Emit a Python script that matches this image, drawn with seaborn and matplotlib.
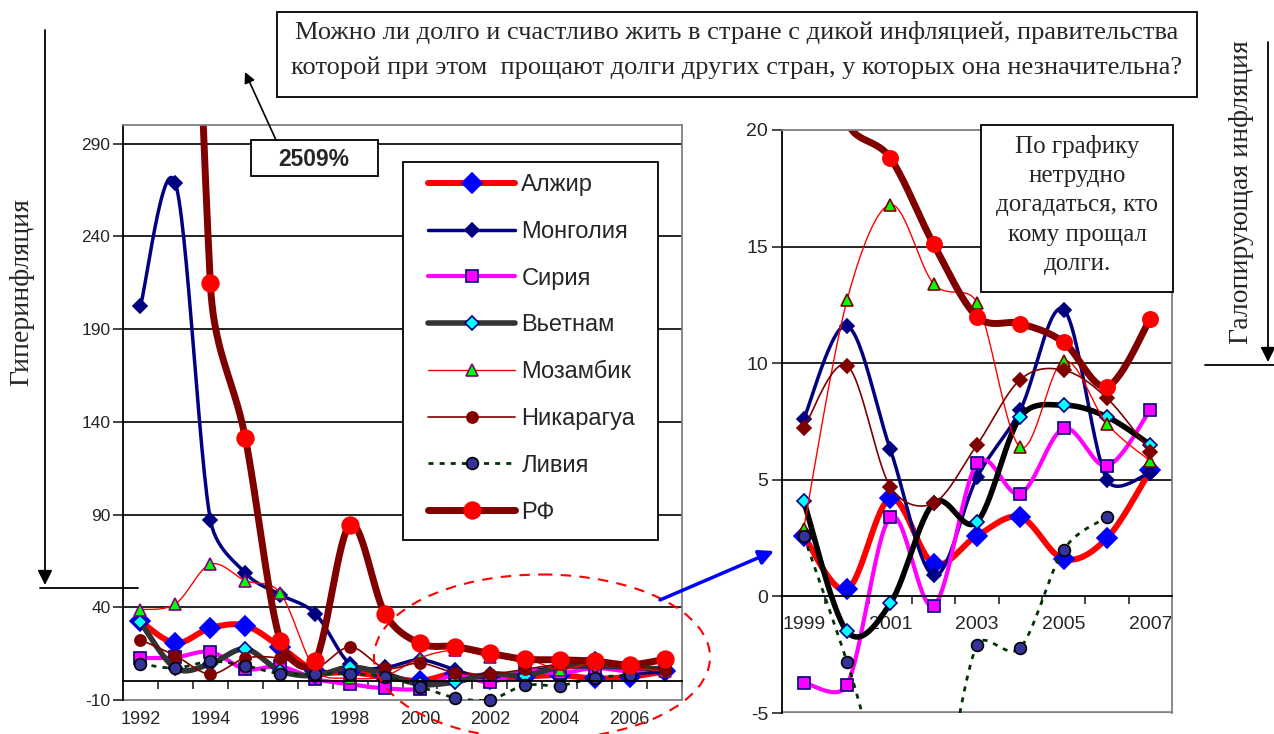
import numpy as np
import pandas as pd
import matplotlib
matplotlib.use("Agg")
import matplotlib.pyplot as plt
import seaborn as sns
from matplotlib.lines import Line2D
from matplotlib.patches import Rectangle, Ellipse

# inflation, %
years = list(range(1992, 2008))
algeria = [32.4, 20.7, 28.8, 30.1, 18.7, 5.7, 5.0, 2.6, 0.3, 4.2, 1.4, 2.6, 3.4, 1.6, 2.5, 5.4]
mongolia = [202.4, 268.6, 87.2, 58.5, 46.8, 36.6, 9.4, 7.6, 11.6, 6.3, 0.9, 5.1, 8.0, 12.3, 5.0, 5.3]
syria = [12.6, 13.0, 15.9, 6.7, 8.1, 1.4, -1.5, -3.7, -3.8, 3.4, -0.4, 5.7, 4.4, 7.2, 5.6, 8.0]
vietnam = [32.0, 7.2, 9.5, 17.5, 5.7, 3.2, 7.7, 4.1, -1.5, -0.3, 4.0, 3.2, 7.7, 8.2, 7.7, 6.5]
mozambique = [38.7, 41.8, 63.2, 54.4, 47.7, 6.4, 1.8, 2.9, 12.7, 16.8, 13.4, 12.6, 6.4, 10.1, 7.4, 5.8]
nicaragua = [22.5, 13.9, 4.0, 12.5, 12.5, 7.3, 18.6, 7.2, 9.9, 4.7, 4.0, 6.5, 9.3, 9.7, 8.5, 6.2]
libya = [9.5, 7.2, 10.8, 8.5, 4.1, 4.1, 4.1, 2.6, -2.8, -8.7, -9.8, -2.1, -2.2, 2.0, 3.4, np.nan]
russia = [2509, 874, 214.7, 131.4, 22.0, 10.9, 84.4, 36.5, 20.5, 18.8, 15.1, 12.0, 11.7, 10.9, 9.0, 11.9]

names = ["Алжир", "Монголия", "Сирия", "Вьетнам", "Мозамбик", "Никарагуа", "Ливия", "РФ"]
df = pd.DataFrame({"year": years, "Алжир": algeria, "Монголия": mongolia,
                   "Сирия": syria, "Вьетнам": vietnam, "Мозамбик": mozambique,
                   "Никарагуа": nicaragua, "Ливия": libya, "РФ": russia})

dots = (0, (1.8, 2.2))
styles = {
    "Алжир": dict(color="#FF0000", lw=4.3, ls="-", marker="D", ms=10, mfc="#0000FF", mec="#0000FF"),
    "Монголия": dict(color="#000080", lw=2.5, ls="-", marker="D", ms=7, mfc="#000080", mec="#000080"),
    "Сирия": dict(color="#FF00FF", lw=3, ls="-", marker="s", ms=8, mfc="#FF00FF", mec="#000080"),
    "Вьетнам": dict(color="#333333", lw=4, ls="-", marker="D", ms=7, mfc="#00FFFF", mec="#000080"),
    "Мозамбик": dict(color="#FF0000", lw=1, ls="-", marker="^", ms=8.5, mfc="#00FF00", mec="#800080"),
    "Никарагуа": dict(color="#800000", lw=1.2, ls="-", marker="o", ms=8, mfc="#800000", mec="#800000"),
    "Ливия": dict(color="#003300", lw=2, ls=dots, marker="o", ms=8.5, mfc="#333399", mec="#000000"),
    "РФ": dict(color="#800000", lw=5, ls="-", marker="o", ms=12, mfc="#FF0000", mec="#FF0000"),
}
# the small chart changes a few styles
right_styles = {
    "Вьетнам": dict(color="#000000"),
    "Мозамбик": dict(mec="#800000"),
    "Никарагуа": dict(marker="D", ms=7.5),
    "РФ": dict(ms=11),
}


def smooth(x, y, sx, sy, n=30):
    """Excel-like smoothed line: Bezier through the points, worked out
    in pixel units (sx, sy = pixels per data unit) with short handles"""
    x = np.asarray(x, float) * sx
    y = np.asarray(y, float) * sy
    ok = ~np.isnan(y)
    segs = []
    i = 0
    while i < len(y):
        if not ok[i]:
            i += 1
            continue
        j = i
        while j < len(y) and ok[j]:
            j += 1
        pts = np.column_stack([x[i:j], y[i:j]])
        i = j
        if len(pts) < 2:
            continue
        t = np.linspace(0, 1, n)[:, None]
        out = []
        for k in range(len(pts) - 1):
            p0 = pts[max(k - 1, 0)]
            p1 = pts[k]
            p2 = pts[k + 1]
            p3 = pts[min(k + 2, len(pts) - 1)]
            seg = np.hypot(*(p2 - p1))
            d1 = (p2 - p0) / 6
            d2 = (p3 - p1) / 6
            for d in (d1, d2):
                ln = np.hypot(*d)
                if ln > 0.45 * seg:
                    d *= 0.45 * seg / ln
            c1 = p1 + d1
            c2 = p2 - d2
            out.append((1 - t) ** 3 * p1 + 3 * (1 - t) ** 2 * t * c1
                       + 3 * (1 - t) * t ** 2 * c2 + t ** 3 * p2)
        out = np.vstack(out)
        segs.append((out[:, 0] / sx, out[:, 1] / sy))
    return segs


def draw(ax, data, ylo, yhi, tol, sx, sy, overrides):
    for name in names:
        st = dict(styles[name])
        st.update(overrides.get(name, {}))
        for xs, ys in smooth(data["year"], data[name], sx, sy):
            sns.lineplot(x=xs, y=ys, ax=ax, color=st["color"], linewidth=st["lw"],
                         linestyle=st["ls"], estimator=None, sort=False,
                         legend=False, solid_capstyle="round")
        vals = data[name].where((data[name] >= ylo - tol) & (data[name] <= yhi))
        ax.plot(data["year"], vals, ls="none", marker=st["marker"], ms=st["ms"],
                mfc=st["mfc"], mec=st["mec"], mew=1.2, clip_on=False)


sns.set_style("white")
plt.rcParams["font.family"] = ["Liberation Sans", "DejaVu Sans"]
plt.rcParams["axes.unicode_minus"] = False
serif = ["Liberation Serif", "DejaVu Serif"]

fig = plt.figure(figsize=(12.74, 7.34), dpi=100)
W, H = 1274, 734

# ---- left chart, 1992-2007
ax1 = fig.add_axes([123 / W, 34 / H, 559 / W, 575 / H])
for v in range(40, 291, 50):
    ax1.axhline(v, color="black", lw=1.2, zorder=0.5)
ax1.axhline(-10, color="#808080", lw=1.3, zorder=0.5, clip_on=False)
draw(ax1, df, -10, 300, 1.0, 559 / 16, 575 / 310, {})
ax1.set_xlim(1991.5, 2007.5)
ax1.set_ylim(-10, 300)
ax1.set_yticks(range(-10, 291, 50))
ax1.set_xticks(years[::2])
ax1.set_xticks(np.arange(1992.5, 2008, 1), minor=True)
ax1.tick_params(axis="y", direction="out", length=7, width=1.2, pad=2, labelsize=12.5, left=True)
ax1.tick_params(axis="x", which="major", length=0, pad=21, labelsize=13)
ax1.tick_params(axis="x", which="minor", direction="out", length=6, width=1.2, bottom=True)
ax1.spines["bottom"].set_position(("data", 0))
for s in ["left", "bottom"]:
    ax1.spines[s].set_color("black")
    ax1.spines[s].set_linewidth(1.3)
for s in ["top", "right"]:
    ax1.spines[s].set_color("#808080")
    ax1.spines[s].set_linewidth(1.3)
ax1.set_xlabel("")
ax1.set_ylabel("")

handles = []
for name in names:
    st = styles[name]
    handles.append(Line2D([], [], color=st["color"], lw=st["lw"], ls=st["ls"],
                          marker=st["marker"], ms=st["ms"], mfc=st["mfc"],
                          mec=st["mec"], mew=1.2))
# legend frame drawn by hand so the inner margins match
ax1.add_patch(Rectangle((403 / W, 1 - 540 / H), 255 / W, 378 / H, transform=fig.transFigure,
                        facecolor="white", edgecolor="black", lw=1.3, zorder=4.9))
leg = ax1.legend(handles, names, loc="upper left",
                 bbox_to_anchor=(428 / W, 1 - 174 / H), bbox_transform=fig.transFigure,
                 fontsize=17, handlelength=3.7, labelspacing=1.05, borderpad=0,
                 handletextpad=0.25, borderaxespad=0, frameon=False)

# ---- right chart, 1999-2007
df2 = df[df["year"] >= 1999].reset_index(drop=True)
ax2 = fig.add_axes([782 / W, 21 / H, 390 / W, 583 / H])
for v in [5, 10, 15]:
    ax2.axhline(v, color="black", lw=1.2, zorder=0.5)
ax2.axhline(-5, color="#808080", lw=2.6, zorder=0.5, clip_on=True)
draw(ax2, df2, -5, 20, 0.0, 390 / 9, 583 / 25, right_styles)
ax2.set_xlim(1998.5, 2007.5)
ax2.set_ylim(-5, 20)
ax2.set_yticks(range(-5, 21, 5))
ax2.set_xticks(years[7::2])
ax2.set_xticks(np.arange(1999.5, 2007, 1), minor=True)
ax2.set_axisbelow(True)
ax2.tick_params(axis="y", direction="out", length=7, width=1.2, pad=3, labelsize=14, left=True)
ax2.tick_params(axis="x", which="major", length=0, pad=14, labelsize=14)
ax2.tick_params(axis="x", which="minor", direction="out", length=6, width=1.2, bottom=True)
ax2.spines["bottom"].set_position(("data", 0))
for s in ["left", "bottom"]:
    ax2.spines[s].set_color("black")
    ax2.spines[s].set_linewidth(1.3)
for s in ["top", "right"]:
    ax2.spines[s].set_color("#808080")
    ax2.spines[s].set_linewidth(1.3)
ax2.set_xlabel("")
ax2.set_ylabel("")

# ---- annotations on top, in pixel coordinates
ov = fig.add_axes([0, 0, 1, 1])
ov.set_xlim(0, W)
ov.set_ylim(H, 0)
ov.axis("off")

ov.add_patch(Rectangle((277, 12), 920, 85, facecolor="white", edgecolor="black", lw=1.3))
ov.text(737, 32, "Можно ли долго и счастливо жить в стране с дикой инфляцией, правительства",
        ha="center", va="center", fontsize=19, family=serif)
ov.text(737, 68, "которой при этом  прощают долги других стран, у которых она незначительна?",
        ha="center", va="center", fontsize=19, family=serif)

ov.add_patch(Rectangle((251, 140), 127, 36, facecolor="white", edgecolor="black", lw=1.3))
ov.text(314, 159, "2509%", ha="center", va="center", fontsize=16.5, fontweight="bold")
ov.annotate("", xy=(245, 72), xytext=(276, 140),
            arrowprops=dict(arrowstyle="-|>", color="black", lw=1.2, mutation_scale=16,
                            shrinkA=0, shrinkB=0))

ov.add_patch(Rectangle((981, 125), 192, 167, facecolor="white", edgecolor="black", lw=1.3))
ov.text(1077, 205, "По графику\nнетрудно\nдогадаться, кто\nкому прощал\nдолги.",
        ha="center", va="center", fontsize=18, family=serif, linespacing=1.44)

# hyper / galloping inflation arrows
ov.annotate("", xy=(45, 585), xytext=(45, 30),
            arrowprops=dict(arrowstyle="-|>", color="black", lw=1.3, mutation_scale=22,
                            shrinkA=0, shrinkB=0))
ov.plot([40, 138], [588, 588], color="black", lw=1.3)
ov.text(22, 292, "Гиперинфляция", rotation=90, ha="center", va="center",
        fontsize=20, family=serif)
ov.annotate("", xy=(1268, 362), xytext=(1268, 42),
            arrowprops=dict(arrowstyle="-|>", color="black", lw=1.3, mutation_scale=22,
                            shrinkA=0, shrinkB=0))
ov.plot([1205, 1274], [365, 365], color="black", lw=1.3)
ov.text(1241, 192, "Галопирующая инфляция", rotation=90, ha="center", va="center",
        fontsize=20, family=serif)

# zoom marker
ov.add_patch(Ellipse((542, 657), 336, 165, fill=False, edgecolor="#FF0000", lw=1.5,
                     ls=(0, (5, 4))))
ov.annotate("", xy=(774, 551), xytext=(660, 600),
            arrowprops=dict(arrowstyle="-|>", color="#0000FF", lw=2.5, mutation_scale=22,
                            shrinkA=0, shrinkB=0))

fig.savefig("out.png", dpi=100)
